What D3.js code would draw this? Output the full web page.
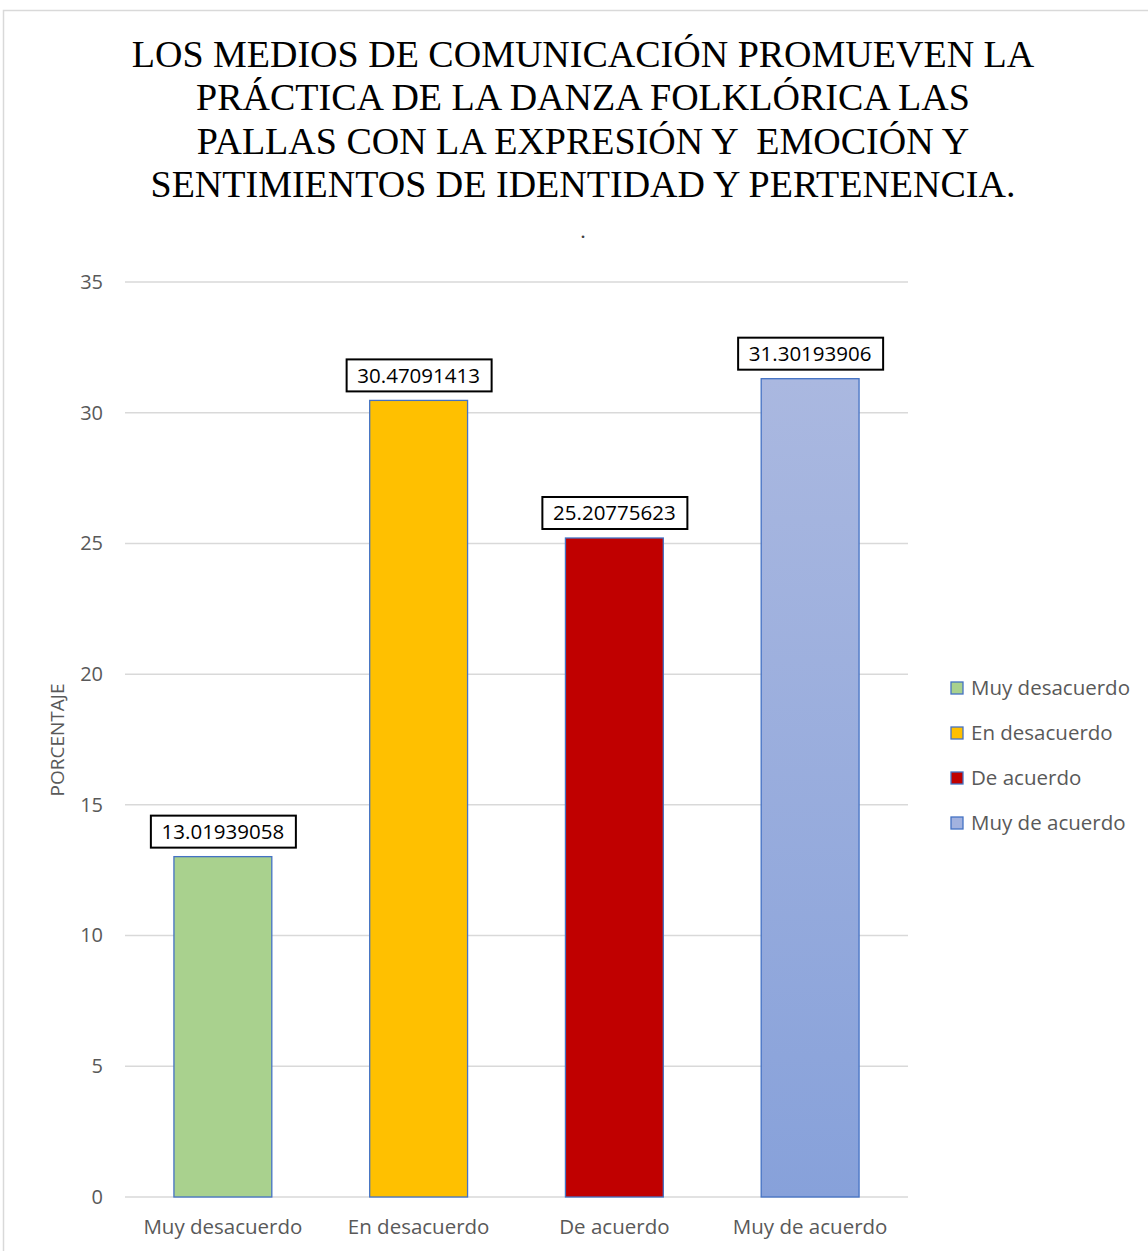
<!DOCTYPE html>
<html>
<head>
<meta charset="utf-8">
<script src="https://cdn.jsdelivr.net/npm/d3@7"></script>
<style>
  body { margin: 0; background: #fff; }
  svg { display: block; }
</style>
</head>
<body>
<div id="chart"></div>
<script>
const categorias = ['Muy desacuerdo', 'En desacuerdo', 'De acuerdo', 'Muy de acuerdo'];
const valores = [13.01939058, 30.47091413, 25.20775623, 31.30193906];
const etiquetas = ['13.01939058', '30.47091413', '25.20775623', '31.30193906'];
const colores = ['#A9D18E', '#FFC000', '#C00000', 'url(#degradado)'];
const coloresLeyenda = ['#A9D18E', '#FFC000', '#C00000', '#A2B2DF'];
const ticksY = [0, 5, 10, 15, 20, 25, 30, 35];
const lineasTitulo = [
  'LOS MEDIOS DE COMUNICACIÓN PROMUEVEN LA',
  'PRÁCTICA DE LA DANZA FOLKLÓRICA LAS',
  'PALLAS CON LA EXPRESIÓN Y  EMOCIÓN Y',
  'SENTIMIENTOS DE IDENTIDAD Y PERTENENCIA.'
];

const ancho = 1148, alto = 1251;
const margen = { izq: 125, der: 908, arriba: 282, abajo: 1197 };
const fuente = '"Open Sans", "Noto Sans", sans-serif';

const svg = d3.select('#chart').append('svg')
  .attr('width', ancho).attr('height', alto);

const defs = svg.append('defs');
const grad = defs.append('linearGradient').attr('id', 'degradado')
  .attr('x1', 0).attr('y1', 0).attr('x2', 0).attr('y2', 1);
grad.append('stop').attr('offset', '0%').attr('stop-color', '#AAB8E0');
grad.append('stop').attr('offset', '100%').attr('stop-color', '#87A1DA');

// marco del gráfico
svg.append('rect')
  .attr('x', 3.5).attr('y', 10.5)
  .attr('width', ancho + 10).attr('height', alto + 10)
  .attr('fill', 'none').attr('stroke', '#d9d9d9').attr('stroke-width', 1.5);

// título
const titulo = svg.append('g');
lineasTitulo.forEach((linea, i) => {
  titulo.append('text')
    .attr('x', 583).attr('y', 67 + i * 43.3)
    .attr('text-anchor', 'middle')
    .style('font-family', '"Liberation Serif", "Times New Roman", serif')
    .style('font-size', '38px')
    .style('white-space', 'pre')
    .attr('fill', '#000')
    .text(linea);
});
svg.append('text')
  .attr('x', 583).attr('y', 238)
  .attr('text-anchor', 'middle')
  .style('font-family', '"Liberation Serif", serif')
  .style('font-size', '22px')
  .attr('fill', '#404040')
  .text('.');

const x = d3.scaleBand().domain(categorias)
  .range([margen.izq, margen.der]).paddingInner(0.5).paddingOuter(0.25);
const y = d3.scaleLinear().domain([0, 35]).range([margen.abajo, margen.arriba]);

// cuadrícula
svg.append('g')
  .selectAll('line').data(ticksY).enter().append('line')
  .attr('x1', margen.izq).attr('x2', margen.der)
  .attr('y1', d => y(d)).attr('y2', d => y(d))
  .attr('stroke', '#d9d9d9').attr('stroke-width', 1.5);

// eje Y
const ejeY = svg.append('g')
  .attr('transform', `translate(${margen.izq},0)`)
  .call(d3.axisLeft(y).tickValues(ticksY).tickSize(0).tickPadding(22));
ejeY.select('.domain').remove();
ejeY.selectAll('text')
  .style('font-family', fuente).style('font-size', '20px').attr('fill', '#595959');

// eje X
const ejeX = svg.append('g')
  .attr('transform', `translate(0,${margen.abajo})`)
  .call(d3.axisBottom(x).tickSize(0).tickPadding(22));
ejeX.select('.domain').remove();
ejeX.selectAll('text')
  .style('font-family', fuente).style('font-size', '20.5px').attr('fill', '#595959');

// etiqueta eje Y
svg.append('text')
  .attr('transform', `translate(64,740) rotate(-90)`)
  .attr('text-anchor', 'middle')
  .style('font-family', fuente).style('font-size', '19px')
  .attr('fill', '#595959')
  .text('PORCENTAJE');

// barras
svg.append('g').selectAll('rect').data(valores).enter().append('rect')
  .attr('x', (d, i) => x(categorias[i]))
  .attr('y', d => y(d))
  .attr('width', x.bandwidth())
  .attr('height', d => y(0) - y(d))
  .attr('fill', (d, i) => colores[i])
  .attr('stroke', '#4472C4').attr('stroke-width', 1.3);

// etiquetas de datos
const etiq = svg.append('g').selectAll('g').data(valores).enter().append('g')
  .attr('transform', (d, i) => `translate(${x(categorias[i]) + x.bandwidth() / 2},${y(d) - 25})`);
etiq.append('rect')
  .attr('x', -72).attr('y', -16).attr('width', 145).attr('height', 32)
  .attr('fill', '#fff').attr('stroke', '#000').attr('stroke-width', 2);
etiq.append('text')
  .attr('text-anchor', 'middle').attr('dy', '0.35em')
  .style('font-family', fuente).style('font-size', '20.5px')
  .attr('fill', '#000')
  .text((d, i) => etiquetas[i]);

// leyenda
const leyenda = svg.append('g').selectAll('g').data(categorias).enter().append('g')
  .attr('transform', (d, i) => `translate(951,${688 + i * 45})`);
leyenda.append('rect')
  .attr('x', 0).attr('y', -6).attr('width', 12).attr('height', 12)
  .attr('fill', (d, i) => coloresLeyenda[i])
  .attr('stroke', '#4472C4').attr('stroke-width', 1.3);
leyenda.append('text')
  .attr('x', 20).attr('dy', '0.35em')
  .style('font-family', fuente).style('font-size', '20.5px')
  .attr('fill', '#595959')
  .text(d => d);
</script>
</body>
</html>
